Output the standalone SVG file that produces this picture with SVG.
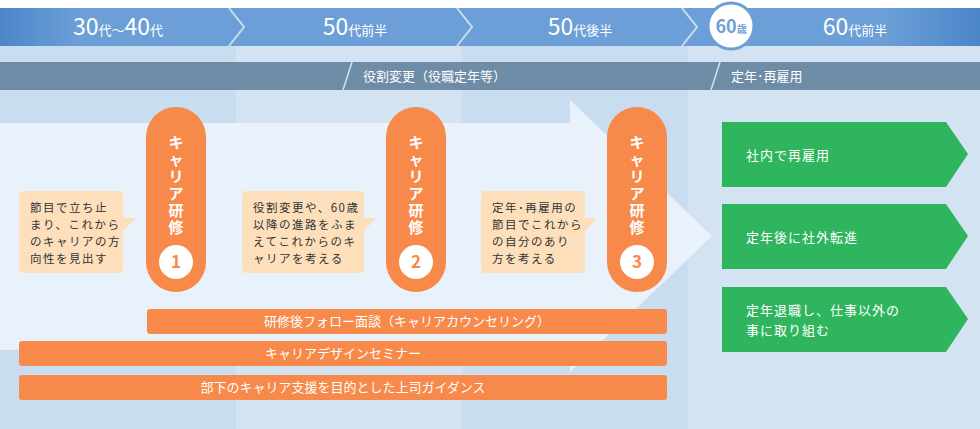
<svg xmlns="http://www.w3.org/2000/svg" width="980" height="429" viewBox="0 0 980 429">
<style>
text{font-family:"Noto Sans CJK JP","Noto Sans",sans-serif}
.hd{fill:#fff;font-size:23px;text-anchor:middle}
.hd tspan.s{font-size:13px}
.band{fill:#fff;font-size:13px}
.pill{fill:#f7894a}
.pt{fill:#fff;font-size:15px;font-weight:bold;text-anchor:middle}
.num{fill:#f7894a;font-size:17px;font-weight:bold;text-anchor:middle}
.co{fill:#fde0bb}
.ct{fill:#333;font-size:11.5px;letter-spacing:1.5px}
.bar{fill:#f7894a}
.bt{fill:#fff;font-size:13px;text-anchor:middle}
.gr{fill:#2fb55e}
.gt{fill:#fff;font-size:13px;letter-spacing:1px}
</style>
<defs>
<linearGradient id="hg" x1="0" x2="1" y1="0" y2="0">
<stop offset="0" stop-color="#4b86c9"/><stop offset="0.08" stop-color="#6c9fd7"/><stop offset="0.9" stop-color="#6c9fd7"/><stop offset="1" stop-color="#4b86c9"/>
</linearGradient>
</defs>
<rect x="0" y="0" width="980" height="429" fill="#fff"/>
<rect x="0" y="46" width="236" height="383" fill="#c9ddf0"/>
<rect x="236" y="46" width="226" height="383" fill="#d3e3f2"/>
<rect x="462" y="46" width="226" height="383" fill="#c9ddf0"/>
<rect x="688" y="46" width="292" height="383" fill="#d3e3f2"/>
<polygon points="0,123 570,123 570,100 712,236 570,372 570,350 0,350" fill="#e9f1fa"/>
<rect x="0" y="8" width="980" height="38" fill="url(#hg)"/>
<g fill="none" stroke="#c9ddf0" stroke-width="2">
<polyline points="229,8 244,27 229,46"/>
<polyline points="457,8 472,27 457,46"/>
<polyline points="682,8 697,27 682,46"/>
</g>
<text class="hd" x="118" y="35">30<tspan class="s">代～</tspan>40<tspan class="s">代</tspan></text>
<text class="hd" x="355" y="35">50<tspan class="s">代前半</tspan></text>
<text class="hd" x="580" y="35">50<tspan class="s">代後半</tspan></text>
<text class="hd" x="855" y="35">60<tspan class="s">代前半</tspan></text>
<g id="age60">
<circle cx="731" cy="26" r="23" fill="#fff" stroke="#6c9fd7" stroke-width="3"/>
<text x="731" y="33" fill="#6c9fd7" font-size="18" text-anchor="middle" font-weight="bold">60<tspan font-size="10">歳</tspan></text>
</g>
<rect x="0" y="62" width="980" height="28" fill="#6e8ca5"/>
<g stroke="#d3e3f2" stroke-width="1.5"><line x1="352" y1="62" x2="343" y2="90"/><line x1="720" y1="62" x2="711" y2="90"/></g>
<text class="band" x="363" y="81">役割変更（役職定年等）</text>
<text class="band" x="731" y="81">定年･再雇用</text>
<g id="pill1"><rect class="pill" x="146" y="107" width="60" height="185" rx="30"/>
<text class="pt"><tspan x="176" y="148">キ</tspan><tspan x="176" y="165">ャ</tspan><tspan x="176" y="182">リ</tspan><tspan x="176" y="199">ア</tspan><tspan x="176" y="216">研</tspan><tspan x="176" y="233">修</tspan></text>
<circle cx="176" cy="262" r="17" fill="#fff"/><text class="num" x="176" y="268">1</text></g>
<g id="pill2"><rect class="pill" x="386" y="107" width="60" height="185" rx="30"/>
<text class="pt"><tspan x="416" y="148">キ</tspan><tspan x="416" y="165">ャ</tspan><tspan x="416" y="182">リ</tspan><tspan x="416" y="199">ア</tspan><tspan x="416" y="216">研</tspan><tspan x="416" y="233">修</tspan></text>
<circle cx="416" cy="262" r="17" fill="#fff"/><text class="num" x="416" y="268">2</text></g>
<g id="pill3"><rect class="pill" x="607" y="107" width="60" height="185" rx="30"/>
<text class="pt"><tspan x="637" y="148">キ</tspan><tspan x="637" y="165">ャ</tspan><tspan x="637" y="182">リ</tspan><tspan x="637" y="199">ア</tspan><tspan x="637" y="216">研</tspan><tspan x="637" y="233">修</tspan></text>
<circle cx="637" cy="262" r="17" fill="#fff"/><text class="num" x="637" y="268">3</text></g>
<g id="call1"><rect class="co" x="19" y="191" width="104" height="82" rx="4"/><polygon class="co" points="122,218 136,218 122,232"/>
<text class="ct"><tspan x="30" y="212">節目で立ち止</tspan><tspan x="30" y="229">まり、これから</tspan><tspan x="30" y="246">のキャリアの方</tspan><tspan x="30" y="263">向性を見出す</tspan></text></g>
<g id="call2"><rect class="co" x="242" y="191" width="122" height="82" rx="4"/><polygon class="co" points="363,218 376,218 363,232"/>
<text class="ct"><tspan x="253" y="212">役割変更や、60歳</tspan><tspan x="253" y="229">以降の進路をふま</tspan><tspan x="253" y="246">えてこれからのキ</tspan><tspan x="253" y="263">ャリアを考える</tspan></text></g>
<g id="call3"><rect class="co" x="481" y="191" width="104" height="82" rx="4"/><polygon class="co" points="584,218 597,218 584,232"/>
<text class="ct"><tspan x="492" y="212">定年･再雇用の</tspan><tspan x="492" y="229">節目でこれから</tspan><tspan x="492" y="246">の自分のあり</tspan><tspan x="492" y="263">方を考える</tspan></text></g>
<g id="bar1"><rect class="bar" x="147" y="309" width="520" height="25" rx="3"/><text class="bt" x="407" y="326">研修後フォロー面談（キャリアカウンセリング）</text></g>
<g id="bar2"><rect class="bar" x="19" y="341" width="648" height="25" rx="3"/><text class="bt" x="343" y="358">キャリアデザインセミナー</text></g>
<g id="bar3"><rect class="bar" x="19" y="375" width="648" height="25" rx="3"/><text class="bt" x="343" y="392">部下のキャリア支援を目的とした上司ガイダンス</text></g>
<g id="g1"><polygon class="gr" points="722,122 946,122 968,154 946,187 722,187"/><text class="gt" x="746" y="160">社内で再雇用</text></g>
<g id="g2"><polygon class="gr" points="722,204 946,204 968,236 946,269 722,269"/><text class="gt" x="746" y="242">定年後に社外転進</text></g>
<g id="g3"><polygon class="gr" points="722,287 946,287 968,319 946,352 722,352"/><text class="gt"><tspan x="746" y="315">定年退職し、仕事以外の</tspan><tspan x="746" y="335">事に取り組む</tspan></text></g>
</svg>
